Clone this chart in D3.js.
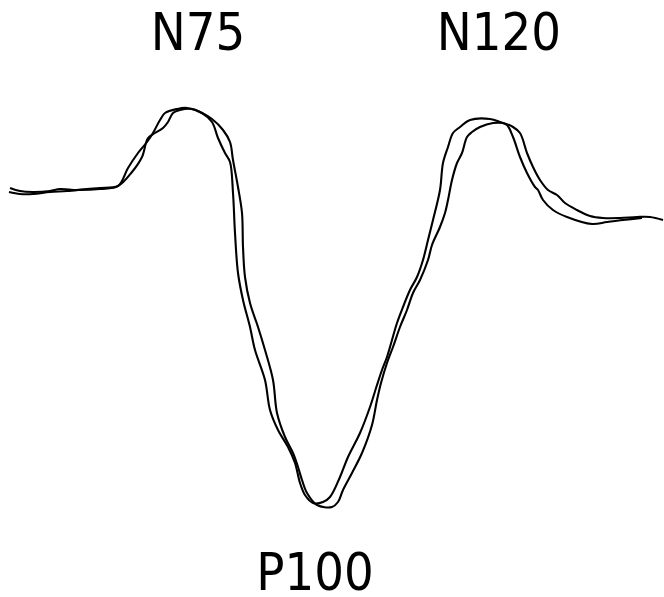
<!DOCTYPE html>
<html>
<head>
<meta charset="utf-8">
<script src="https://cdn.jsdelivr.net/npm/d3@7"></script>
<style>
  html, body { margin: 0; padding: 0; background: #fff; }
  .peak { font-family: "DejaVu Sans Condensed", "DejaVu Sans", sans-serif; font-stretch: condensed; font-size: 52px; fill: #000; }
</style>
</head>
<body>
<div id="my_dataviz"></div>
<script>
// time (ms) and amplitude (uV, negative drawn up)
var timeA = [42, 44, 46.6, 50, 52, 55.4, 60, 63.6, 65.6, 67.6, 69.4, 70.6, 72, 73, 75.4, 77.4, 80.4, 82.4, 83.6, 85, 86,
  86.6, 87, 87.6, 88.6, 90, 91, 93, 94, 95.6, 97.6, 99, 100, 101, 102.6, 104.6, 106, 108, 109.6, 112, 114, 115.4,
  116.4, 117.4, 118.4, 119.4, 120.6, 122, 123.4, 124.6, 125.6, 126.6, 128, 128.6, 129.6, 130.6, 132, 134, 138, 140,
  141.4, 142.6, 144, 145.4, 147, 147.6, 148.6, 150.6, 153.4, 158.4, 161.4, 164.6, 168.4];
var voltA = [-0.08, 0.04, 0.08, 0.04, -0.04, 0, -0.04, -0.16, -0.88, -1.48, -1.92, -2.28, -2.8, -3.08, -3.24, -3.28, -3.08, -2.72, -2.08, -1.48, -1.12,
  0.12, 1.72, 3.32, 4.4, 5.48, 6.4, 7.6, 8.8, 9.6, 10.28, 10.92, 11.72, 12.2, 12.52, 12.48, 12.28, 11.48, 10.68, 9.72, 8.68, 7.8,
  7.2, 6.68, 6, 5.32, 4.68, 4, 3.48, 2.8, 2, 1.2, 0, -1.08, -1.72, -2.28, -2.52, -2.8, -2.84, -2.72,
  -2.6, -2.12, -1.32, -0.68, -0.12, 0, 0.4, 0.8, 1.08, 1.36, 1.28, 1.2, 1.12];

var timeB = [41.8, 44, 46.6, 50, 53.4, 57.4, 60, 63.6, 66.4, 68.4, 69.6, 71, 72.6, 73.6, 74.6, 76, 78.4, 80.4, 82.4, 84.6, 86,
  86.6, 87.6, 88.4, 88.6, 89, 90, 91.6, 93, 94.6, 95.4, 97, 98.6, 99.6, 100.4, 101.4, 103.4, 106.4, 107.6, 108.6, 110.4,
  112.4, 114.4, 115.4, 116.2, 117.4, 118.6, 120, 121.4, 122.6, 124, 125.6, 126.4, 128, 129, 129.6, 130.4, 131.4, 132.4,
  133.4, 134.4, 136, 138.6, 140.6, 142.6, 144, 145.4, 146.6, 148, 149.6, 151.4, 153, 155.4, 158, 160.6, 164, 167.4, 170, 172.6];
var voltB = [0.08, 0.16, 0.16, 0.08, 0.04, -0.04, -0.08, -0.16, -0.72, -1.32, -2.08, -2.28, -2.48, -2.72, -3.08, -3.2, -3.24, -3.08, -2.84, -2.4, -1.92,
  -1.2, -0.12, 0.92, 2.28, 3.48, 4.52, 5.48, 6.4, 7.6, 8.92, 9.88, 10.52, 11.08, 11.6, 12.12, 12.6, 12.68, 12.48, 12, 11.32,
  10.52, 9.4, 8.4, 7.72, 6.92, 6.28, 5.48, 4.8, 4.12, 3.6, 2.8, 2.2, 1.48, 0.92, 0.4, -0.4, -1.08, -1.48,
  -2.12, -2.32, -2.52, -2.68, -2.68, -2.52, -2.28, -1.48, -0.92, -0.4, 0, 0.2, 0.52, 0.8, 1.04, 1.12, 1.12, 1.08, 1.08, 1.2];

// peak labels
var peakNames = ["N75", "P100", "N120"];
var peakTimes = [79.6, 103, 139.8];
var peakVolts = [-5.6, 16.0, -5.6];

var width = 664, height = 597;

var svg = d3.select("#my_dataviz")
  .append("svg")
    .attr("width", width)
    .attr("height", height);

var x = d3.scaleLinear()
  .domain([40, 172.8])
  .range([0, width]);

var y = d3.scaleLinear()
  .domain([-7.6, 16.28])
  .range([0, height]);

var line = d3.line()
  .x(function(d) { return x(d[0]); })
  .y(function(d) { return y(d[1]); })
  .curve(d3.curveCatmullRom.alpha(0.5));

[d3.zip(timeA, voltA), d3.zip(timeB, voltB)].forEach(function(pts) {
  svg.append("path")
    .datum(pts)
    .attr("d", line)
    .attr("fill", "none")
    .attr("stroke", "#000")
    .attr("stroke-width", 2.1)
    .attr("stroke-linejoin", "round");
});

svg.selectAll("text.peak")
  .data(peakNames)
  .enter()
  .append("text")
    .attr("class", "peak")
    .attr("x", function(d, i) { return x(peakTimes[i]); })
    .attr("y", function(d, i) { return y(peakVolts[i]); })
    .attr("text-anchor", "middle")
    .text(function(d) { return d; });
</script>
</body>
</html>
